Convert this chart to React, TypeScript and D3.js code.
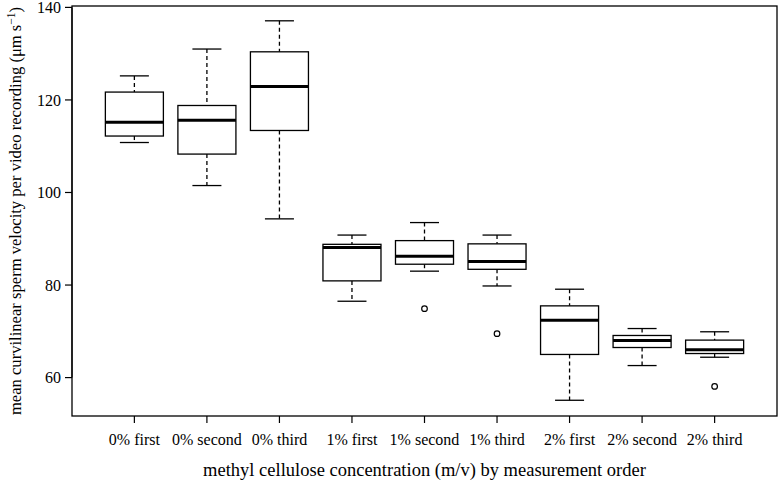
import React from "react";
import * as d3 from "d3";

const categories = ["0% first", "0% second", "0% third", "1% first", "1% second", "1% third", "2% first", "2% second", "2% third"];
const lowerWhisker = [110.8, 101.5, 94.3, 76.5, 83.0, 79.8, 55.1, 62.6, 64.4];
const q1 = [112.2, 108.3, 113.4, 80.9, 84.5, 83.4, 65.0, 66.5, 65.2];
const medians = [115.2, 115.6, 122.9, 88.1, 86.2, 85.1, 72.4, 68.0, 66.0];
const q3 = [121.7, 118.8, 130.4, 88.8, 89.6, 88.9, 75.5, 69.1, 68.1];
const upperWhisker = [125.2, 131.0, 137.1, 90.8, 93.5, 90.8, 79.1, 70.6, 69.9];
const outlierCategory = ["1% second", "1% third", "2% third"];
const outlierValue = [74.9, 69.5, 58.1];
const yTicks = [60, 80, 100, 120, 140];

const W = 779, H = 481;
const left = 72, right = 777, top = 6, bottom = 416;
const font = "Liberation Serif";

export default function App() {
  const x = d3.scaleLinear().domain([0.14, 9.86]).range([left, right]);
  const y = d3.scaleLinear().domain([51.7, 140.3]).range([bottom, top]);
  const bw = x(1.4) - x(1);
  const cw = x(1.2) - x(1);
  const ts = { fontFamily: font };
  return (
    <svg width={W} height={H} style={{ position: "absolute", left: 0, top: 0, background: "#fff" }}>
      <rect x={left} y={top} width={right - left} height={bottom - top} fill="none" stroke="#000" strokeWidth={1.3} />
      {categories.map((c, i) => {
        const cx = x(i + 1);
        return (
          <g key={c}>
            <line x1={cx} x2={cx} y1={y(upperWhisker[i])} y2={y(q3[i])} stroke="#000" strokeWidth={1.3} strokeDasharray="4,3" />
            <line x1={cx} x2={cx} y1={y(q1[i])} y2={y(lowerWhisker[i])} stroke="#000" strokeWidth={1.3} strokeDasharray="4,3" />
            <line x1={cx - cw} x2={cx + cw} y1={y(upperWhisker[i])} y2={y(upperWhisker[i])} stroke="#000" strokeWidth={1.3} />
            <line x1={cx - cw} x2={cx + cw} y1={y(lowerWhisker[i])} y2={y(lowerWhisker[i])} stroke="#000" strokeWidth={1.3} />
            <rect x={cx - bw} y={y(q3[i])} width={2 * bw} height={y(q1[i]) - y(q3[i])} fill="#fff" stroke="#000" strokeWidth={1.3} />
            <line x1={cx - bw} x2={cx + bw} y1={y(medians[i])} y2={y(medians[i])} stroke="#000" strokeWidth={3} />
            <line x1={cx} x2={cx} y1={bottom} y2={bottom + 7} stroke="#000" strokeWidth={1.2} />
            <text x={cx} y={445} textAnchor="middle" style={ts} fontSize={16}>{c}</text>
          </g>
        );
      })}
      {outlierCategory.map((c, k) => (
        <circle key={k} cx={x(categories.indexOf(c) + 1)} cy={y(outlierValue[k])} r={2.8} fill="none" stroke="#000" strokeWidth={1.2} />
      ))}
      <line x1={left} x2={left} y1={y(60)} y2={y(140)} stroke="#000" strokeWidth={1.2} />
      {yTicks.map((t) => (
        <g key={t}>
          <line x1={left - 7} x2={left} y1={y(t)} y2={y(t)} stroke="#000" strokeWidth={1.2} />
          <text x={left - 11} y={y(t)} dy="0.35em" textAnchor="end" style={ts} fontSize={16}>{t}</text>
        </g>
      ))}
      <text x={(left + right) / 2} y={476} textAnchor="middle" style={ts} fontSize={18.5}>
        methyl cellulose concentration (m/v) by measurement order
      </text>
      <text transform={`translate(20.5,${(top + bottom) / 2}) rotate(-90)`} textAnchor="middle" style={ts} fontSize={16.6}>
        mean curvilinear sperm velocity per video recording (μm s<tspan dy="-6" fontSize={11.5}>−1</tspan><tspan dy="6">)</tspan>
      </text>
    </svg>
  );
}
